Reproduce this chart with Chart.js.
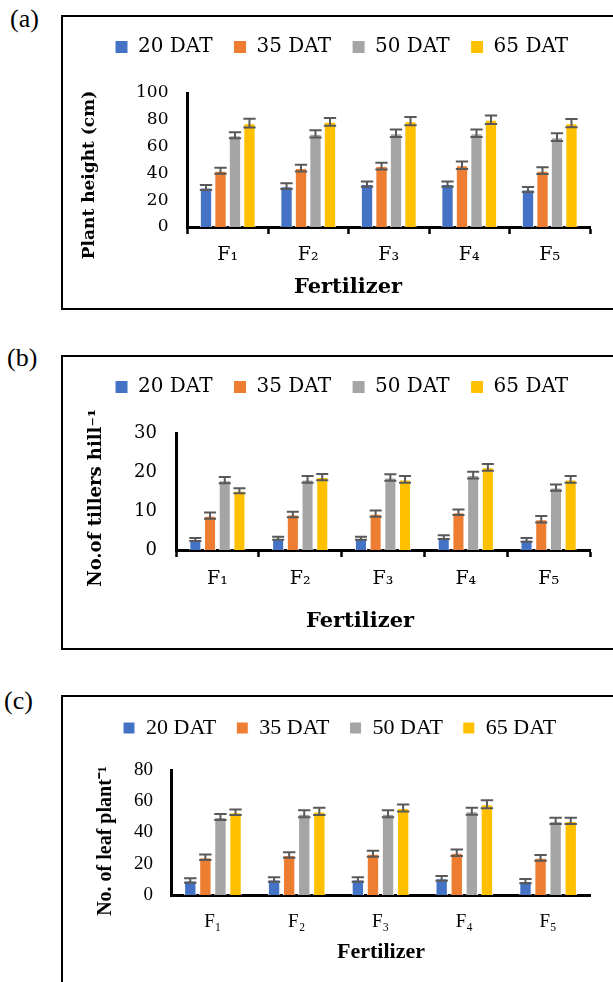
<!DOCTYPE html>
<html>
<head>
<meta charset="utf-8">
<script src="https://cdn.jsdelivr.net/npm/chart.js@4.4.0/dist/chart.umd.min.js"></script>
<style>
  html, body { margin: 0; padding: 0; background: #fff; }
  body { position: relative; width: 613px; height: 982px; overflow: hidden; }
  .panel-label { position: absolute; font-family: 'Liberation Serif', serif; font-size: 26px; line-height: 26px; color: #000; }
  .frame { position: absolute; left: 61px; width: 640px; border: 2px solid #000; box-sizing: border-box; }
  canvas { position: absolute; left: 0; }
</style>
</head>
<body>
<div class="panel-label" style="left:10px;top:6px">(a)</div>
<div class="frame" style="top:15px;height:295px"></div>
<canvas id="heightChart" width="613" height="340" style="top:0"></canvas>

<div class="panel-label" style="left:7px;top:345px">(b)</div>
<div class="frame" style="top:355px;height:295px"></div>
<canvas id="tillerChart" width="613" height="340" style="top:340px"></canvas>

<div class="panel-label" style="left:4px;top:688px">(c)</div>
<div class="frame" style="top:695px;height:400px"></div>
<canvas id="leafChart" width="613" height="302" style="top:680px"></canvas>

<script>
const fertilizers = ['F₁', 'F₂', 'F₃', 'F₄', 'F₅'];
const stages = ['20 DAT', '35 DAT', '50 DAT', '65 DAT'];
const stageColors = ['#4472C4', '#ED7D31', '#A5A5A5', '#FFC000'];

// (a) plant height (cm): one row per stage, one value per fertilizer
const heightMeans = [
  [29.5, 30.5, 32, 32, 28],
  [42, 44, 45.5, 46, 42],
  [68.5, 69.5, 70, 70, 67],
  [77.5, 78.5, 79, 80, 77.5],
];
const heightErrors = [
  [1.8, 2.1, 1.9, 1.9, 1.9],
  [2.3, 2.5, 2.5, 2.8, 2.5],
  [2.2, 2.7, 2.8, 2.8, 2.9],
  [3.2, 2.9, 3.1, 3.2, 3.1],
];
const heightTicks = [0, 20, 40, 60, 80, 100];

// (b) tillers per hill
const tillerMeans = [
  [2.7, 3.0, 3.0, 3.3, 2.6],
  [8.8, 9.1, 9.3, 9.7, 7.9],
  [17.9, 18.1, 18.6, 19.2, 16.0],
  [15.2, 18.7, 18.1, 21.2, 18.1],
];
const tillerErrors = [
  [0.4, 0.4, 0.4, 0.5, 0.5],
  [0.8, 0.7, 0.8, 0.7, 0.85],
  [0.8, 0.85, 0.85, 0.85, 0.8],
  [0.65, 0.8, 0.85, 0.85, 0.85],
];
const tillerTicks = [0, 10, 20, 30];

// (c) leaves per plant
const leafMeans = [
  [9.3, 9.9, 9.9, 10.7, 8.9],
  [24.2, 25.6, 26.4, 27.1, 23.8],
  [49.9, 52, 52, 53.6, 47.4],
  [53, 53.5, 55.7, 58.1, 47.4],
];
const leafErrors = [
  [1.4, 1.4, 1.4, 1.5, 1.4],
  [1.8, 1.7, 1.9, 2.1, 1.8],
  [1.9, 2.3, 2.3, 2.3, 2.0],
  [1.8, 2.3, 2.3, 2.6, 2.0],
];
const leafTicks = [0, 20, 40, 60, 80];

// whiskers + caps, drawn on top of the bars
const errorBars = {
  id: 'errorBars',
  afterDatasetsDraw(chart) {
    const { ctx } = chart;
    const y = chart.scales.y;
    ctx.save();
    ctx.strokeStyle = '#595959';
    ctx.lineWidth = 2;
    chart.data.datasets.forEach((ds, i) => {
      chart.getDatasetMeta(i).data.forEach((bar, j) => {
        const hi = y.getPixelForValue(ds.data[j] + ds.errors[j]);
        const lo = y.getPixelForValue(ds.data[j] - ds.errors[j]);
        const half = bar.width / 2;
        ctx.beginPath();
        ctx.moveTo(bar.x, hi); ctx.lineTo(bar.x, lo);
        ctx.moveTo(bar.x - half, hi); ctx.lineTo(bar.x + half, hi);
        ctx.moveTo(bar.x - half, lo); ctx.lineTo(bar.x + half, lo);
        ctx.stroke();
      });
    });
    ctx.restore();
  }
};

// axis titles sit off-centre in the original, so they are placed by hand
const axisTitles = {
  id: 'axisTitles',
  afterDraw(chart, args, opts) {
    const { ctx } = chart;
    ctx.save();
    ctx.fillStyle = '#000';
    ctx.textAlign = 'center';
    ctx.textBaseline = 'middle';
    ctx.font = opts.xFont;
    ctx.fillText(opts.xText, opts.xX, opts.xY);
    ctx.translate(opts.yX, opts.yY);
    ctx.rotate(-Math.PI / 2);
    ctx.font = opts.yFont;
    ctx.fillText(opts.yText, 0, 0);
    ctx.restore();
  }
};

function makePanel(id, means, errors, ticks, p) {
  return new Chart(document.getElementById(id), {
    type: 'bar',
    data: {
      labels: fertilizers,
      datasets: stages.map((stage, i) => ({
        label: stage,
        data: means[i],
        errors: errors[i],
        backgroundColor: stageColors[i],
        borderColor: '#ffffff',
        borderWidth: 1,
        categoryPercentage: p.catPct,
        barPercentage: p.barPct,
      })),
    },
    options: {
      responsive: false,
      animation: false,
      layout: { padding: { left: p.legendLeft, top: p.legendTop, right: 0, bottom: 0 } },
      plugins: {
        legend: {
          align: 'start',
          labels: {
            boxWidth: p.box,
            boxHeight: p.box,
            padding: p.legendGap,
            color: '#000',
            font: { family: p.font, size: p.legendSize },
          },
        },
        // empty title used as a gap between legend and plot
        title: { display: true, text: '', weight: 500, padding: 0, font: { size: p.spacer, lineHeight: 1 } },
        tooltip: { enabled: false },
        axisTitles: {
          xText: 'Fertilizer', xFont: p.xTitleFont, xX: p.xTitleAt[0], xY: p.xTitleAt[1],
          yText: p.yTitle, yFont: p.yTitleFont, yX: p.yTitleAt[0], yY: p.yTitleAt[1],
        },
      },
      scales: {
        x: {
          grid: {
            display: p.xTickMarks, drawTicks: p.xTickMarks, drawOnChartArea: false,
            tickLength: 7, tickWidth: 2.5, tickColor: '#000',
          },
          border: { color: '#000', width: 3 },
          ticks: { color: '#000', padding: p.xPad, maxRotation: 0, font: { family: p.font, size: p.xSize } },
          afterFit: s => { s.height = p.height - p.plotBottom; s.paddingRight = 613 - p.plotRight; },
        },
        y: {
          min: ticks[0],
          max: ticks[ticks.length - 1],
          grid: { display: false, drawTicks: false },
          border: { color: '#000', width: 3 },
          ticks: { stepSize: ticks[1] - ticks[0], color: '#000', padding: p.yPad, font: { family: p.font, size: p.ySize } },
          afterFit: s => { s.width = p.plotLeft - p.legendLeft; },
        },
      },
    },
    plugins: [errorBars, axisTitles],
  });
}

makePanel('heightChart', heightMeans, heightErrors, heightTicks, {
  height: 340, plotLeft: 187.5, plotRight: 590, plotBottom: 227,
  legendLeft: 94, legendTop: 16, legendGap: 21, legendSize: 20, box: 13, spacer: 26,
  font: "'DejaVu Serif'", xSize: 19, ySize: 17, xPad: 10, yPad: 19, xTickMarks: true,
  catPct: 0.72, barPct: 0.85,
  xTitleFont: "bold 21px 'DejaVu Serif'", xTitleAt: [348, 288],
  yTitle: 'Plant height (cm)', yTitleFont: "bold 17px 'DejaVu Serif'", yTitleAt: [90, 175],
});

makePanel('tillerChart', tillerMeans, tillerErrors, tillerTicks, {
  height: 340, plotLeft: 176, plotRight: 590, plotBottom: 210,
  legendLeft: 94, legendTop: 16, legendGap: 21, legendSize: 20, box: 13, spacer: 26,
  font: "'DejaVu Serif'", xSize: 19, ySize: 18, xPad: 11, yPad: 19, xTickMarks: true,
  catPct: 0.71, barPct: 0.82,
  xTitleFont: "bold 21px 'DejaVu Serif'", xTitleAt: [360, 282],
  yTitle: 'No.of tillers hill⁻¹', yTitleFont: "bold 18px 'DejaVu Serif'", yTitleAt: [96, 158],
});

makePanel('leafChart', leafMeans, leafErrors, leafTicks, {
  height: 302, plotLeft: 171, plotRight: 590, plotBottom: 215,
  legendLeft: 103, legendTop: 17, legendGap: 20, legendSize: 22, box: 12, spacer: 21,
  font: "'Liberation Serif'", xSize: 19, ySize: 19, xPad: 16, yPad: 18, xTickMarks: false,
  catPct: 0.72, barPct: 0.82,
  xTitleFont: "bold 22px 'Liberation Serif'", xTitleAt: [381, 272],
  yTitle: 'No. of leaf plant⁻¹', yTitleFont: "bold 20px 'Liberation Serif'", yTitleAt: [105.6, 161],
});
</script>
</body>
</html>
